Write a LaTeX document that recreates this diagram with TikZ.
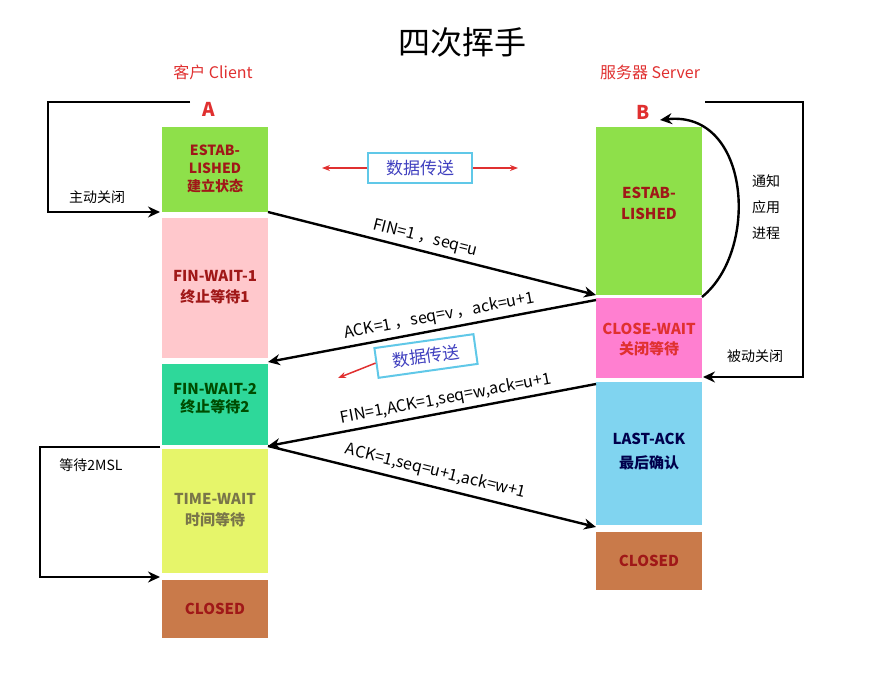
\documentclass[tikz,border=0pt]{standalone}
\usepackage{fontspec}
\setmainfont{Noto Sans CJK SC}
\usetikzlibrary{arrows.meta}
\definecolor{kg}{HTML}{8EE04A}
\definecolor{kp}{HTML}{FFC8CC}
\definecolor{kt}{HTML}{2ED89A}
\definecolor{ky}{HTML}{E6F56A}
\definecolor{kb}{HTML}{C97A4A}
\definecolor{kmag}{HTML}{FF7FD0}
\definecolor{ks}{HTML}{80D4F0}
\definecolor{kdr}{HTML}{A01818}
\definecolor{krr}{HTML}{E03030}
\definecolor{kbx}{HTML}{60C8E8}
\begin{document}
\begin{tikzpicture}[x=1pt,y=-1pt,
  st/.style={inner sep=0pt,font=\bfseries\fontsize{15}{18}\selectfont,text=kdr,align=center},
  lk/.style={line width=2.4pt,-{Stealth[length=12pt,width=11pt]}},
  msg/.style={font=\fontsize{16}{18}\selectfont,inner sep=2pt},
  side/.style={font=\fontsize{14}{16}\selectfont,inner sep=1pt},
  data/.style={draw=kbx,line width=2pt,fill=white,text=blue!50!gray,font=\fontsize{17}{18}\selectfont,minimum width=104pt,minimum height=30pt},
  redarr/.style={draw=krr,line width=1.5pt,-{Stealth[length=8pt]}}]
\useasboundingbox (0,0) rectangle (881,674);
\node[font=\fontsize{32}{34}\selectfont] (title) at (462,42) {四次挥手};
\node[text=krr,font=\fontsize{16}{18}\selectfont] (cl) at (213,72) {客户 Client};
\node[text=krr,font=\fontsize{16}{18}\selectfont] (sv) at (650,72) {服务器 Server};
\node[text=krr,font=\bfseries\fontsize{19}{20}\selectfont,inner sep=1pt] (A) at (209,109) {A};
\node[text=krr,font=\bfseries\fontsize{19}{20}\selectfont,inner sep=1pt] (B) at (643,112) {B};
% left column
\fill[kg] (162,127) rectangle (268,212); \node[st,font=\bfseries\fontsize{14}{18}\selectfont] (e1) at (215,169) {ESTAB-\\LISHED\\建立状态};
\fill[kp] (162,218) rectangle (268,358); \node[st] (f1) at (215,287) {FIN-WAIT-1\\[3pt]终止等待1};
\fill[kt] (162,364) rectangle (268,445); \node[st,text=black!70!green] (f2) at (215,399) {FIN-WAIT-2\\终止等待2};
\fill[ky] (162,449) rectangle (268,573); \node[st,text=black!60!yellow] (tw) at (215,510) {TIME-WAIT\\[3pt]时间等待};
\fill[kb] (162,580) rectangle (268,638); \node[st] (c1) at (215,609) {CLOSED};
% right column
\fill[kg] (596,127) rectangle (702,295); \node[st] (e2) at (649,203) {ESTAB-\\[3pt]LISHED};
\fill[kmag] (596,298) rectangle (702,378); \node[st,text=krr] (cw) at (649,340) {CLOSE-WAIT\\[2pt]关闭等待};
\fill[ks] (596,382) rectangle (702,525); \node[st,text=black!70!blue] (la) at (649,452) {LAST-ACK\\[6pt]最后确认};
\fill[kb] (596,532) rectangle (702,590); \node[st] (c2) at (649,561) {CLOSED};
% coordinates
\coordinate (p1) at (268,212); \coordinate (p2) at (596,295);
\coordinate (p3) at (596,300); \coordinate (p4) at (268,362);
\coordinate (p5) at (596,384); \coordinate (p6) at (268,446);
\coordinate (p7) at (596,527);
\draw[lk] (p1) -- (p2) node[msg,pos=0.47,above=2pt,sloped] {FIN=1 ，seq=u};
\draw[lk] (p3) -- (p4) node[msg,pos=0.47,above=2pt,sloped] {ACK=1 ，seq=v ，ack=u+1};
\draw[lk] (p5) -- (p6) node[msg,pos=0.45,above=2pt,sloped] {FIN=1,ACK=1,seq=w,ack=u+1};
\draw[lk] (p6) -- (p7) node[msg,pos=0.5,above=4pt,sloped] {ACK=1,seq=u+1,ack=w+1};
% loops
\coordinate (a1) at (190,102); \coordinate (a2) at (48,102); \coordinate (a3) at (48,212); \coordinate (a4) at (160,212);
\draw[lk] (a1) -- (a2) -- (a3) -- (a4);
\node[side] (zd) at (97,197) {主动关闭};
\coordinate (b1) at (705,102); \coordinate (b2) at (803,102); \coordinate (b3) at (803,377); \coordinate (b4) at (703,377);
\draw[lk] (b1) -- (b2) -- (b3) -- (b4);
\node[side] (bd) at (755,356) {被动关闭};
\coordinate (q1) at (702,297); \coordinate (q2) at (660,120);
\draw[lk] (q1) .. controls (760,250) and (750,110) .. (q2);
\node[side,align=center] (tz) at (766,207) {通知\\[10pt]应用\\[10pt]进程};
\coordinate (t1) at (160,447); \coordinate (t2) at (40,447); \coordinate (t3) at (40,577); \coordinate (t4) at (160,577);
\draw[lk] (t1) -- (t2) -- (t3) -- (t4);
\node[side] (ms) at (91,465) {等待2MSL};
% data boxes
\node[data] (d1) at (420,168) {数据传送};
\coordinate (r1) at (322,168); \coordinate (r2) at (518,168);
\draw[redarr] (d1.west) -- (r1);
\draw[redarr] (d1.east) -- (r2);
\node[data,rotate=8,minimum width=100pt,minimum height=30pt] (d2) at (426,356) {数据传送};
\coordinate (r3) at (338,378);
\draw[redarr] (d2.west) -- (r3);
\end{tikzpicture}
\end{document}
